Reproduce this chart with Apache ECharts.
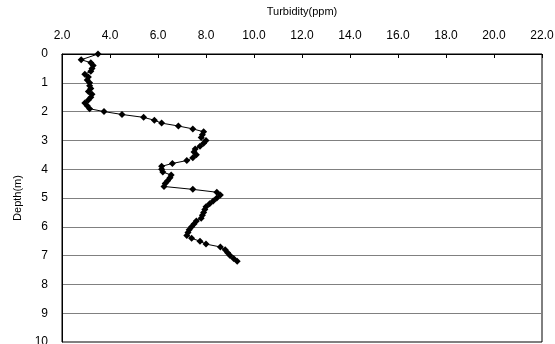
<!DOCTYPE html>
<html>
<head>
<meta charset="utf-8">
<script src="https://cdn.jsdelivr.net/npm/echarts@6/dist/echarts.min.js"></script>
<style>
  html, body { margin: 0; padding: 0; background: #fff; }
  #chart { width: 555px; height: 344px; }
</style>
</head>
<body>
<div id="chart"></div>
<script>
// depth (m) of each reading
const depths = [
  0.0, 0.2, 0.3, 0.4, 0.5, 0.6, 0.7, 0.8, 0.9, 1.0,
  1.1, 1.2, 1.3, 1.4, 1.5, 1.6, 1.7, 1.8, 1.9, 2.0,
  2.1, 2.2, 2.3, 2.4, 2.5, 2.6, 2.7, 2.8, 2.9, 3.0,
  3.1, 3.2, 3.3, 3.4, 3.5, 3.6, 3.7, 3.8, 3.9, 4.0,
  4.1, 4.2, 4.3, 4.4, 4.5, 4.6, 4.7, 4.8, 4.9, 5.0,
  5.1, 5.2, 5.3, 5.4, 5.5, 5.6, 5.7, 5.8, 5.9, 6.0,
  6.1, 6.2, 6.3, 6.4, 6.5, 6.6, 6.7, 6.8, 6.9, 7.0,
  7.1, 7.2
];
// turbidity (ppm) at each depth
const turbidity = [
  3.5, 2.8, 3.2, 3.3, 3.25, 3.2, 2.95, 3.1, 3.05, 3.15,
  3.15, 3.2, 3.1, 3.25, 3.2, 3.1, 2.95, 3.05, 3.15, 3.75,
  4.5, 5.4, 5.85, 6.15, 6.85, 7.45, 7.9, 7.85, 7.8, 8.0,
  7.9, 7.75, 7.55, 7.5, 7.6, 7.45, 7.2, 6.6, 6.15, 6.15,
  6.2, 6.55, 6.5, 6.4, 6.3, 6.25, 7.45, 8.45, 8.6, 8.45,
  8.3, 8.15, 8.0, 7.95, 7.9, 7.85, 7.8, 7.6, 7.5, 7.4,
  7.3, 7.25, 7.2, 7.4, 7.75, 8.0, 8.6, 8.8, 8.9, 9.0,
  9.15, 9.3
];

const chart = echarts.init(document.getElementById("chart"));
const font = "Liberation Sans, Arial, sans-serif";

const option = {
  animation: false,
  textStyle: { fontFamily: font, color: "#000" },
  grid: {
    left: 62,
    right: 13,
    top: 54,
    bottom: 2,
    outerBoundsMode: "none",
    show: true,
    borderColor: "#000",
    borderWidth: 1,
  },
  xAxis: {
    type: "value",
    position: "top",
    min: 2,
    max: 22,
    interval: 2,
    name: "Turbidity(ppm)",
    nameLocation: "middle",
    nameGap: 37,
    nameTextStyle: { fontSize: 11, color: "#000", fontFamily: font },
    axisLine: { show: true, lineStyle: { color: "#000", width: 1 } },
    axisTick: { show: true, inside: true, length: 4, lineStyle: { color: "#000" } },
    axisLabel: {
      fontSize: 12,
      color: "#000",
      margin: 12,
      formatter: (v) => v.toFixed(1),
    },
    splitLine: { show: false },
  },
  yAxis: {
    type: "value",
    inverse: true,
    min: 0,
    max: 10,
    interval: 1,
    name: "Depth(m)",
    nameLocation: "middle",
    nameGap: 34,
    nameRotate: 90,
    nameTextStyle: { fontSize: 11, color: "#000", fontFamily: font },
    axisLine: { show: true, lineStyle: { color: "#000", width: 1 } },
    axisTick: { show: false },
    axisLabel: { fontSize: 12, color: "#000", margin: 14 },
    splitLine: { show: true, lineStyle: { color: "#808080", width: 1 } },
  },
  series: [
    {
      type: "line",
      data: turbidity.map((t, i) => [t, depths[i]]),
      symbol: "diamond",
      symbolSize: 7,
      itemStyle: { color: "#000" },
      lineStyle: { color: "#000", width: 1 },
    },
  ],
};

chart.setOption(option);
</script>
</body>
</html>
